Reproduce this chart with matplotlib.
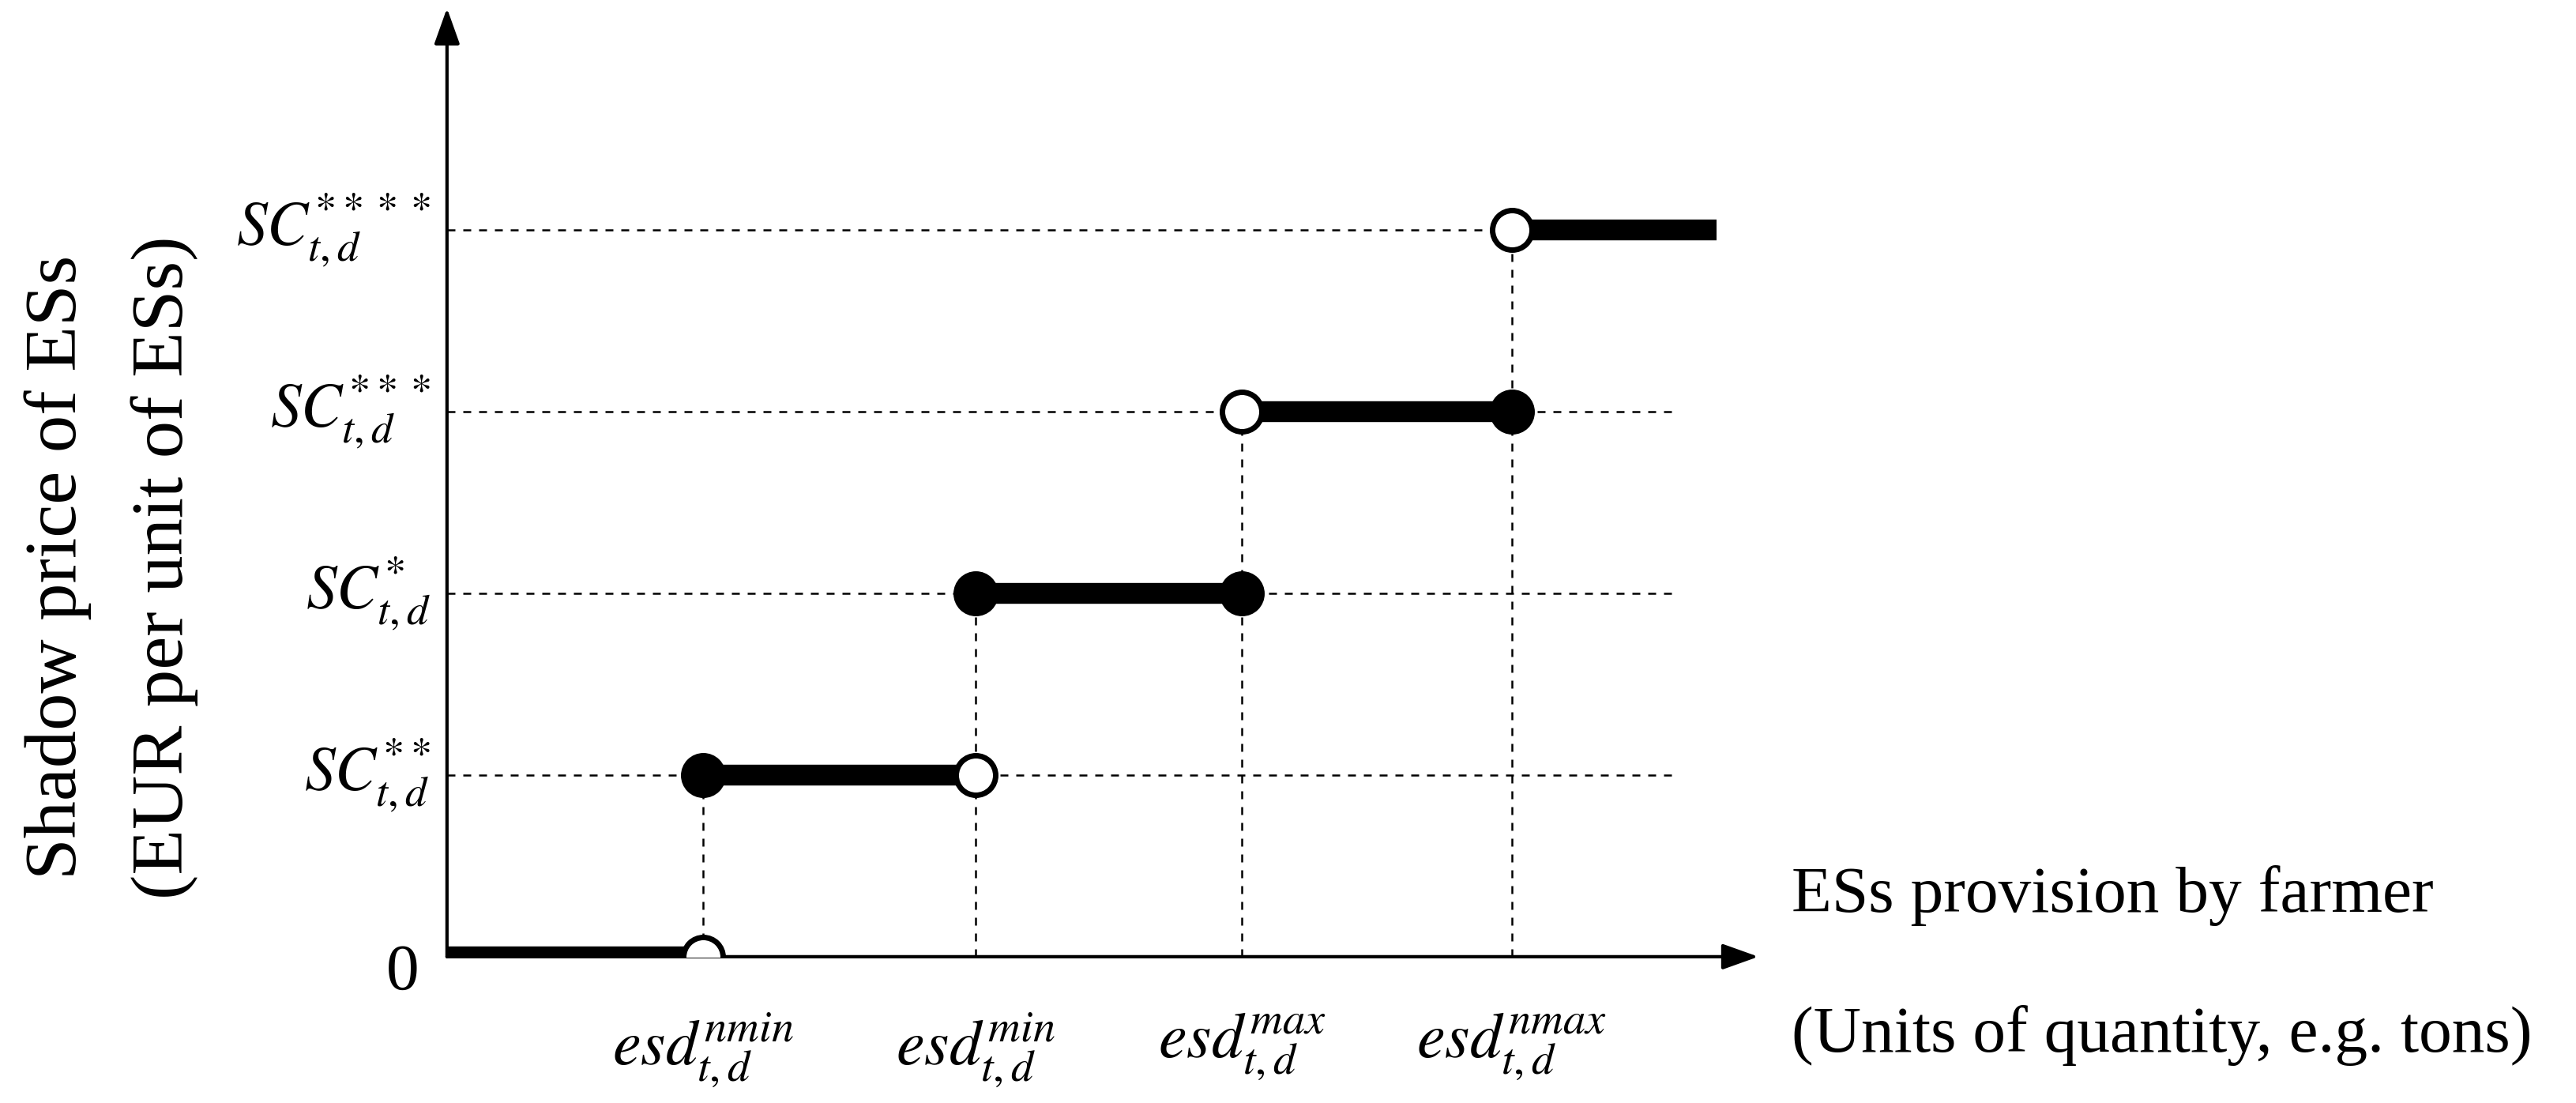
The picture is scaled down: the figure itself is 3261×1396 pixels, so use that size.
import matplotlib.pyplot as plt

plt.rcParams['font.family'] = ['Liberation Serif', 'DejaVu Serif']
plt.rcParams['mathtext.fontset'] = 'stix'

# step positions along x (units) and price levels
esd_x = [0.95, 1.96, 2.95, 3.95]
x_end = 4.71
levels = [1, 2, 3, 4]
dash_end = [4.56, 4.56, 4.56, 3.95]
level_labels = [r'$SC^{**}_{t,d}$', r'$SC^{*}_{t,d}$', r'$SC^{***}_{t,d}$', r'$SC^{****}_{t,d}$']
x_labels = [r'$esd^{nmin}_{t,d}$', r'$esd^{min}_{t,d}$', r'$esd^{max}_{t,d}$', r'$esd^{nmax}_{t,d}$']
# segments: (x0, x1, y, left filled?, right filled?)
segments = [(0, esd_x[0], 0, None, False),
            (esd_x[0], esd_x[1], 1, True, False),
            (esd_x[1], esd_x[2], 2, True, True),
            (esd_x[2], esd_x[3], 3, False, True),
            (esd_x[3], x_end, 4, False, None)]

W, H = 1568, 671
fig = plt.figure(figsize=(32.62, 13.96), dpi=100)
ux, uy = 164, 110.5
ax = fig.add_axes([272 / W, (H - 582) / H, (1070 - 272) / W, (582 - 5) / H])
ax.set_xlim(0, (1070 - 272) / ux)
ax.set_ylim(0, (582 - 5) / uy)
ax.axis('off')

arrow = dict(arrowstyle='-|>,head_length=2.8,head_width=1.0', lw=3, color='black',
             shrinkA=0, shrinkB=0)
ax.annotate('', xy=(ax.get_xlim()[1], 0), xytext=(0, 0), arrowprops=arrow)
ax.annotate('', xy=(0, ax.get_ylim()[1]), xytext=(0, 0), arrowprops=arrow)

for y, xe in zip(levels, dash_end):
    ax.plot([0, xe], [y, y], ls=(0, (4, 4)), color='black', lw=1.8)
for x, y in zip(esd_x, levels):
    ax.plot([x, x], [0, y], ls=(0, (4, 4)), color='black', lw=1.8)

for x0, x1, y, lf, rf in segments:
    ax.plot([x0, x1], [y, y], color='black', lw=19, solid_capstyle='butt', zorder=3)
    for x, f in ((x0, lf), (x1, rf)):
        if f is None:
            continue
        ax.plot(x, y, 'o', ms=36, mec='black', mew=5, mfc='black' if f else 'white', zorder=4)

def ftext(px, py, s, fs=60, **kw):
    fig.text(px / W, 1 - py / H, s, fontsize=fs, **kw)

for y, lab in zip(levels, level_labels):
    ax.text(-0.06, y, lab, fontsize=56, ha='right', va='center')
for x, lab in zip(esd_x, x_labels):
    ax.text(x, -0.3, lab, fontsize=58, ha='center', va='top')

ftext(245, 592, '0', ha='center', va='center')
ftext(35, 345, 'Shadow price of ESs', fs=68, rotation=90, ha='center', va='center')
ftext(100, 345, '(EUR per unit of ESs)', fs=68, rotation=90, ha='center', va='center')
ftext(1090, 545, 'ESs provision by farmer', ha='left', va='center')
ftext(1090, 630, '(Units of quantity, e.g. tons)', ha='left', va='center')

fig.savefig('out.png', dpi=100, facecolor='white')
